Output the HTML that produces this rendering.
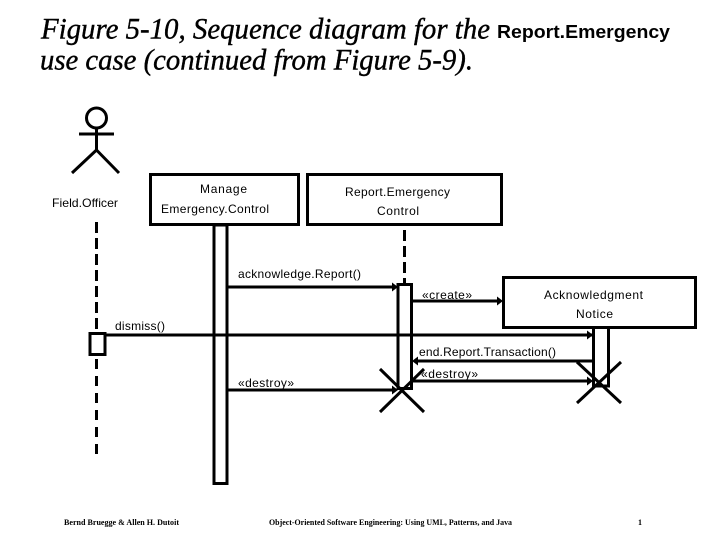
<!DOCTYPE html>
<html><head><meta charset="utf-8"><style>
html,body{margin:0;padding:0;background:#fff;width:720px;height:540px;overflow:hidden}
svg{display:block}
text{fill:#000}
.s{font-family:"Liberation Sans",sans-serif;font-size:12px}
.t{font-family:"Liberation Serif",serif;font-style:italic;font-size:30px;stroke:#000;stroke-width:.4px}
.f{font-family:"Liberation Serif",serif;font-weight:bold;font-size:8px}
</style></head><body>
<svg width="720" height="540" viewBox="0 0 720 540" xmlns="http://www.w3.org/2000/svg">
<rect width="720" height="540" fill="#fff"/>
<text class="t" x="41" y="38.500" textLength="449" lengthAdjust="spacingAndGlyphs">Figure 5-10, Sequence diagram for the</text>
<text x="497" y="38" textLength="173" lengthAdjust="spacingAndGlyphs" style="font-family:'Liberation Sans',sans-serif;font-weight:bold;font-size:18px">Report.Emergency</text>
<text class="t" x="40" y="69.500" textLength="433" lengthAdjust="spacingAndGlyphs">use case (continued from Figure 5-9).</text>

<g fill="none" stroke="#000" stroke-width="3">
<circle cx="96.5" cy="118" r="10"/>
<path d="M79 134H114M96.5 128V150M96.5 150L72 173M96.5 150L119 173"/>
<rect x="150.5" y="174.500" width="148" height="50" fill="#fff"/>
<rect x="307.5" y="174.500" width="194" height="50" fill="#fff"/>
<rect x="214" y="225" width="13" height="258.500"/>
<path d="M96.5 222V333" stroke-dasharray="11 5"/>
<path d="M96.5 359V454" stroke-dasharray="10 7"/>
<path d="M404.5 230V284" stroke-dasharray="11 5"/>
<path d="M227 287H393M412 301H499M593 361H416M412 381H589M227 390H393"/>
<rect x="398" y="284.500" width="13.500" height="104"/>
<rect x="503.500" y="277.500" width="192" height="50" fill="#fff"/>
<rect x="593.500" y="327.500" width="15" height="58.500"/>
<rect x="90" y="333.500" width="15" height="21" fill="#fff"/>
<path d="M380 369L424 412M424 369L380 412M577 362L621 403M621 362L577 403"/>
</g>
<path d="M105 335H593" stroke="#000" stroke-width="3" fill="none"/>
<g fill="#000">
<path d="M392 282.500L398 287L392 291.500Z"/>
<path d="M497 296.500L503 301L497 305.500Z"/>
<path d="M587 330.500L593 335L587 339.500Z"/>
<path d="M418 356.500L412 361L418 365.500Z"/>
<path d="M587 376.500L593 381L587 385.500Z"/>
<path d="M392 385.500L398 390L392 394.500Z"/>
</g>

<g class="s">
<text x="52" y="207" textLength="66" lengthAdjust="spacingAndGlyphs">Field.Officer</text>
<text x="200" y="193" textLength="47">Manage</text>
<text x="161" y="213" textLength="108">Emergency.Control</text>
<text x="345" y="196" textLength="105">Report.Emergency</text>
<text x="377" y="215" textLength="42">Control</text>
<text x="238" y="278" textLength="123">acknowledge.Report()</text>
<text x="422" y="299" textLength="50">«create»</text>
<text x="544" y="299" textLength="99">Acknowledgment</text>
<text x="576" y="318" textLength="37">Notice</text>
<text x="115" y="330" textLength="50">dismiss()</text>
<text x="419" y="356" textLength="137">end.Report.Transaction()</text>
<text x="238" y="387" textLength="56">«destroy»</text>
<text x="421" y="378" textLength="57">«destroy»</text>
</g>

<g class="f">
<text x="64" y="525" textLength="115" lengthAdjust="spacingAndGlyphs">Bernd Bruegge &amp; Allen H. Dutoit</text>
<text x="269" y="525" textLength="243" lengthAdjust="spacingAndGlyphs">Object-Oriented Software Engineering: Using UML, Patterns, and Java</text>
<text x="638" y="525">1</text>
</g>
</svg>
</body></html>
